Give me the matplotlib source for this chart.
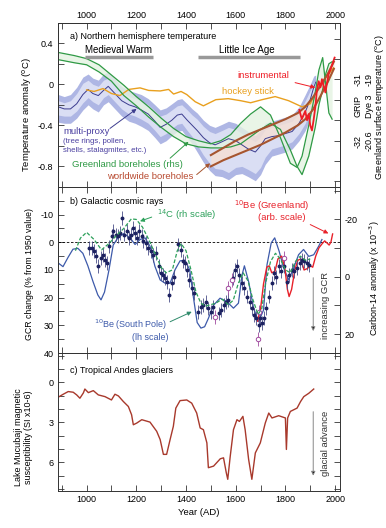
import numpy as np
import matplotlib
matplotlib.use('Agg')
import matplotlib.pyplot as plt
from matplotlib.ticker import MultipleLocator, FixedLocator

plt.rcParams['font.family'] = ['Liberation Sans', 'DejaVu Sans']
plt.rcParams['font.size'] = 6.5
plt.rcParams['axes.unicode_minus'] = False
plt.rcParams['axes.linewidth'] = 0.7
plt.rcParams['axes.edgecolor'] = '#333333'

# --- a) Northern hemisphere temperature ---
mp_years = [886, 910, 935, 960, 985, 1006, 1025, 1047, 1068, 1087, 1110, 1141, 1170, 1195, 1220,
            1248, 1275, 1296, 1320, 1343, 1365, 1383, 1405, 1425, 1445, 1470, 1495, 1517, 1545,
            1571, 1600, 1625, 1650, 1679, 1700, 1719, 1745, 1773, 1800, 1827, 1855, 1880, 1900,
            1914, 1922]
mp_vals = [-0.22, -0.24, -0.24, -0.19, -0.10, -0.05, -0.09, -0.11, -0.06, -0.02, -0.08, -0.16,
           -0.20, -0.22, -0.25, -0.29, -0.36, -0.42, -0.39, -0.35, -0.30, -0.29, -0.35, -0.40,
           -0.45, -0.52, -0.57, -0.59, -0.56, -0.53, -0.55, -0.59, -0.63, -0.66, -0.60, -0.53,
           -0.51, -0.50, -0.48, -0.46, -0.38, -0.27, -0.15, -0.03, 0.02]
mp_hi = [-0.10, -0.12, -0.10, -0.03, 0.07, 0.10, 0.06, 0.04, 0.10, 0.12, 0.06, -0.02, -0.06,
         -0.08, -0.10, -0.14, -0.20, -0.25, -0.23, -0.19, -0.15, -0.14, -0.19, -0.24, -0.28,
         -0.35, -0.40, -0.42, -0.39, -0.36, -0.38, -0.42, -0.46, -0.50, -0.45, -0.38, -0.36,
         -0.34, -0.32, -0.30, -0.22, -0.10, 0.00, 0.08, 0.09]
mp_lo = [-0.37, -0.38, -0.38, -0.33, -0.25, -0.20, -0.24, -0.27, -0.20, -0.17, -0.23, -0.31,
         -0.36, -0.38, -0.41, -0.45, -0.52, -0.58, -0.55, -0.50, -0.46, -0.45, -0.52, -0.58,
         -0.66, -0.76, -0.84, -0.89, -0.90, -0.93, -0.88, -0.87, -0.90, -0.94, -0.88, -0.78,
         -0.70, -0.68, -0.66, -0.63, -0.55, -0.45, -0.33, -0.18, -0.08]

hs_years = [1000, 1030, 1066, 1100, 1134, 1170, 1215, 1250, 1296, 1330, 1350, 1380, 1403, 1437,
            1470, 1520, 1570, 1620, 1660, 1706, 1759, 1813, 1867, 1900, 1934, 1974, 1994]
hs_vals = [-0.055, -0.07, -0.042, -0.09, -0.11, -0.05, -0.035, -0.06, -0.065, -0.05, -0.095,
           -0.07, -0.10, -0.17, -0.21, -0.15, -0.14, -0.16, -0.18, -0.15, -0.12, -0.16, -0.22,
           -0.19, -0.02, 0.10, 0.16]

gb_years = [886, 950, 1000, 1050, 1100, 1150, 1200, 1250, 1300, 1350, 1400, 1450, 1500, 1540,
            1580, 1620, 1660, 1700, 1740, 1780, 1820, 1847, 1867, 1894, 1920, 1935, 1950, 1962,
            1975, 1988]
gb_grip = [0.31, 0.28, 0.25, 0.19, 0.09, -0.01, -0.12, -0.22, -0.33, -0.43, -0.51, -0.55, -0.58,
           -0.55, -0.49, -0.38, -0.29, -0.22, -0.30, -0.52, -0.77, -0.81, -0.70, -0.40, -0.08,
           0.14, 0.26, 0.00, -0.28, -0.34]
gb_dye3 = [0.24, 0.21, 0.19, 0.12, 0.03, -0.11, -0.21, -0.32, -0.42, -0.51, -0.58, -0.61, -0.62,
           -0.62, -0.61, -0.58, -0.51, -0.44, -0.38, -0.44, -0.64, -0.80, -0.88, -0.70, -0.42,
           -0.20, -0.05, 0.10, 0.20, 0.22]

wb_years = [1500, 1550, 1600, 1650, 1700, 1750, 1800, 1850, 1880, 1910, 1940, 1970, 1995]
wb_hi = [-0.69, -0.62, -0.55, -0.49, -0.44, -0.39, -0.34, -0.28, -0.22, -0.13, -0.02, 0.10, 0.22]
wb_lo = [-0.80, -0.74, -0.69, -0.64, -0.59, -0.53, -0.47, -0.40, -0.34, -0.25, -0.12, 0.02, 0.15]

inst_years = [1856, 1866, 1873, 1880, 1887, 1894, 1900, 1907, 1914, 1921, 1927, 1934, 1941,
              1947, 1954, 1961, 1968, 1974, 1981, 1988, 1998]
inst_vals = [-0.25, -0.34, -0.30, -0.26, -0.35, -0.29, -0.40, -0.45, -0.34, -0.21, -0.05, 0.03,
             -0.03, 0.05, -0.02, -0.08, 0.02, 0.10, 0.14, 0.19, 0.26]

# --- b) Galactic cosmic rays ---
be_sp_years = [886, 905, 925, 945, 965, 985, 1005, 1025, 1045, 1058, 1072, 1090, 1107, 1125,
               1150, 1175, 1195, 1215, 1235, 1255, 1275, 1296, 1316, 1336, 1356, 1376, 1396,
               1415, 1430, 1445, 1460, 1475, 1490, 1511, 1537, 1564, 1591, 1611, 1625, 1635,
               1652, 1672, 1692, 1712, 1726, 1743, 1757, 1775, 1793, 1813, 1833, 1853, 1873,
               1894, 1914, 1934, 1947]
be_sp_gcr = [7.5, 8.8, 5.5, 2.5, 2.2, 4.0, 8.5, 14.0, 19.0, 20.8, 18.0, 10.0, 1.0, -1.5, -3.2,
             -1.6, 0.8, -1.0, -1.6, 1.4, 8.7, 13.6, 14.8, 14.8, 9.9, 6.7, 6.5, 10.0, 20.0, 29.0,
             31.0, 30.5, 27.5, 22.7, 20.2, 21.4, 23.8, 22.0, 12.0, 8.5, 14.2, 23.8, 28.7, 24.5,
             8.1, 0.2, -1.6, 3.3, 9.3, 13.6, 9.3, 4.5, 2.6, 5.1, 4.5, 1.4, -1.0]

c14_years = [955, 975, 1000, 1030, 1060, 1090, 1120, 1150, 1180, 1200, 1225, 1250, 1275, 1300,
             1320, 1345, 1365, 1380, 1400, 1420, 1440, 1460, 1480, 1500, 1520, 1545, 1570, 1590,
             1610, 1630, 1650, 1670, 1690, 1705, 1720, 1740, 1760, 1780, 1800, 1820, 1840, 1860,
             1880, 1900]
c14_anom = [-9.1, -13.5, -15.5, -13.0, -9.4, -11.6, -14.4, -16.9, -20.2, -20.0, -17.3, -13.0,
            -8.2, -3.3, -1.4, -2.4, -9.1, -11.6, -9.1, -2.4, 5.3, 9.2, 10.2, 9.7, 9.2, 7.8, 9.7,
            8.2, 2.4, -1.4, 1.5, 8.2, 13.1, 11.1, 2.4, -5.3, -8.2, -6.2, -2.4, -1.4, -5.3, -7.2,
            -5.8, -6.2]

be_gl_years = [1688, 1700, 1712, 1725, 1735, 1745, 1758, 1770, 1785, 1798, 1808, 1815, 1825,
               1838, 1850, 1862, 1875, 1888, 1900, 1910, 1922, 1935, 1948, 1958, 1968, 1976,
               1983, 1990]
be_gl_gcr = [28.5, 24.0, 15.0, 9.0, 8.5, 11.0, 10.5, 6.0, 5.0, 9.5, 17.0, 19.6, 17.0, 10.0, 6.5,
             6.0, 10.0, 9.5, 8.5, 9.0, 5.0, 2.0, 0.5, -0.5, 0.3, 1.0, 0.0, -3.0]

pt_years = [1011, 1020, 1029, 1037, 1047, 1056, 1064, 1074, 1081, 1091, 1101, 1107, 1118, 1128,
            1134, 1144, 1152, 1161, 1171, 1177, 1185, 1195, 1204, 1212, 1222, 1228, 1238, 1249,
            1259, 1269, 1279, 1290, 1298, 1306, 1316, 1325, 1333, 1343, 1352, 1369, 1379, 1387,
            1396, 1403, 1414, 1423, 1433, 1450, 1460, 1470, 1481, 1490, 1500, 1508, 1531, 1540,
            1551, 1562, 1571, 1589, 1598, 1607, 1615, 1625, 1634, 1645, 1656, 1665, 1675, 1683,
            1692, 1699, 1706, 1715, 1723, 1732, 1746, 1755, 1763, 1773, 1782, 1793, 1806, 1816,
            1826, 1836, 1847, 1857, 1867, 1876, 1887, 1894]
pt_gcr = [2.0, 2.1, 3.3, 5.1, 8.7, 5.7, 4.5, 6.3, 7.5, 1.5, -2.2, -4.0, -2.8, -2.2, -3.3, -8.7,
          -2.8, -4.0, -1.6, -2.8, -5.2, -3.3, -1.6, -4.0, -2.2, -0.4, 0.2, 2.1, 3.3, 4.5, 3.9,
          8.7, 11.2, 11.8, 13.0, 14.2, 19.0, 14.8, 12.4, 0.8, 2.7, 6.9, 7.5, 9.9, 13.6, 16.6,
          18.4, 25.1, 23.3, 22.7, 21.5, 23.9, 25.1, 23.3, 25.7, 24.5, 22.7, 21.5, 20.8, 12.9,
          9.9, 8.7, 11.7, 14.8, 16.6, 19.6, 21.5, 23.9, 26.3, 27.5, 29.9, 27.5, 29.3, 27.5, 23.9,
          19.6, 14.8, 11.1, 12.4, 8.7, 10.5, 8.7, 14.2, 11.7, 9.9, 10.5, 9.3, 7.5, 6.3, 6.9, 7.5,
          8.1]
pc_years = [1517, 1567, 1584, 1689, 1692, 1793]
pc_gcr = [26.9, 16.4, 13.6, 34.8, 25.1, 5.7]

# --- c) Tropical Andes glaciers ---
c_years = [886, 906, 926, 946, 960, 973, 987, 993, 1007, 1027, 1047, 1074, 1100, 1114, 1128,
           1148, 1168, 1181, 1188, 1202, 1222, 1255, 1282, 1296, 1309, 1322, 1336, 1349, 1359,
           1376, 1403, 1423, 1443, 1457, 1470, 1484, 1490, 1511, 1538, 1551, 1562, 1568, 1578,
           1591, 1605, 1615, 1629, 1638, 1652, 1665, 1679, 1699, 1719, 1733, 1746, 1773, 1800,
           1804, 1809, 1820, 1834, 1847, 1861, 1874, 1894, 1914]
c_vals = [1.11, 0.89, 0.69, 0.74, 0.94, 1.19, 0.79, 0.5, 0.77, 0.62, 0.94, 1.07, 1.32, 0.89,
          1.02, 1.44, 1.81, 2.43, 3.18, 3.05, 2.8, 2.98, 3.67, 4.29, 5.4, 5.4, 4.29, 3.3, 1.93,
          1.37, 1.32, 1.56, 2.3, 3.42, 3.55, 4.54, 6.4, 6.28, 5.73, 5.66, 6.77, 7.27, 5.54, 3.55,
          2.8, 2.93, 2.55, 3.55, 5.78, 7.27, 5.29, 4.54, 3.05, 2.3, 2.67, 2.5, 2.67, 5.03, 2.67,
          2.18, 2.05, 1.93, 1.44, 1.07, 0.82, 0.5]

W, H = 386, 528
fig = plt.figure(figsize=(W / 100, H / 100), dpi=100)


def px(x, y):
    return x / W, 1 - y / H


ax_a = fig.add_axes([0.151, 0.646, 0.730, 0.311])
ax_b = fig.add_axes([0.151, 0.3314, 0.730, 0.3146])
ax_c = fig.add_axes([0.151, 0.070, 0.730, 0.2614])

for ax in (ax_a, ax_b, ax_c):
    ax.set_xlim(886, 2020)
    ax.xaxis.set_major_locator(MultipleLocator(200))
    ax.xaxis.set_minor_locator(MultipleLocator(100))
    ax.tick_params(which='both', direction='in', length=4, width=0.6, top=True, bottom=True,
                   labelsize=6.5, colors='#333333', labelcolor='black')
ax_a.tick_params(axis='x', labeltop=True, labelbottom=False, pad=2)
ax_b.tick_params(axis='x', labelbottom=False)
ax_c.tick_params(axis='x', pad=3)


def arrow(ax, tail, head, color):
    ax.annotate('', xy=head, xytext=tail,
                arrowprops=dict(arrowstyle='-|>', color=color, lw=0.7, mutation_scale=6,
                                shrinkA=0, shrinkB=0))


# panel a
mp_hi_a = np.array(mp_hi)
mp_lo_a = np.array(mp_lo)
ax_a.fill_between(mp_years, mp_lo_a, mp_hi_a, color='#aeb6e4', lw=0)
ax_a.fill_between(mp_years, mp_lo_a + 0.07, mp_hi_a - 0.06, color='#dadef4', lw=0)
ax_a.fill_between(gb_years, gb_dye3, gb_grip, color='#e4f3e2', alpha=0.8, lw=0)
ax_a.fill_between(wb_years, wb_lo, wb_hi, color='#f4e0d6', alpha=0.85, lw=0)
ax_a.plot(mp_years, mp_vals, color='#3c3c8e', lw=0.7)
ax_a.plot(hs_years, hs_vals, color='#e9a01e', lw=1.0)
ax_a.plot(gb_years, gb_grip, color='#2f9a45', lw=0.9)
ax_a.plot(gb_years, gb_dye3, color='#2f9a45', lw=0.9)
ax_a.plot(wb_years, wb_hi, color='#a6552f', lw=1.5)
ax_a.plot(wb_years, wb_lo, color='#a6552f', lw=1.5)
ax_a.plot(inst_years, inst_vals, color='#ee1c25', lw=1.3)

ax_a.set_ylim(-1.0, 0.6)
ax_a.set_yticks([0.4, 0, -0.4, -0.8])
ax_a.set_yticklabels(['0.4', '0', '-0.4', '-0.8'])
ax_a.yaxis.set_minor_locator(FixedLocator([0.2, -0.2, -0.6]))
ax_a.tick_params(axis='y', which='both', right=False)

ax_a2 = ax_a.twinx()
ax_a2.set_ylim(-32.76, -30.07)
ax_a2.yaxis.set_major_locator(FixedLocator([-31, -32]))
ax_a2.yaxis.set_minor_locator(FixedLocator([-30.33, -30.67, -31.33, -31.67, -32.33, -32.67]))
ax_a2.tick_params(which='both', direction='in', length=4, width=0.6, labelright=False,
                  colors='#333333')

ax_a.text(933, 0.47, 'a) Northern hemisphere temperature', va='center', fontsize=6.5)
ax_a.plot([994, 1268], [0.27, 0.27], color='#999999', lw=2.5, solid_capstyle='butt')
ax_a.plot([1450, 1860], [0.27, 0.27], color='#999999', lw=2.5, solid_capstyle='butt')
ax_a.text(1130, 0.335, 'Medieval Warm', ha='center', va='center', fontsize=7)
ax_a.text(1646, 0.335, 'Little Ice Age', ha='center', va='center', fontsize=7)
ax_a.text(1712, 0.087, 'instrumental', ha='center', va='center', color='#ee1c25', fontsize=6.8)
arrow(ax_a, (1839, 0.016), (1920, -0.032), '#ee1c25')
ax_a.text(1650, -0.07, 'hockey stick', ha='center', va='center', color='#e9a01e', fontsize=6.8)
ax_a.text(905, -0.46, 'multi-proxy', va='center', color='#4a3fa0', fontsize=6.8)
ax_a.text(905, -0.56, '(tree rings, pollen,', va='center', color='#4a3fa0', fontsize=5.6)
ax_a.text(905, -0.65, 'shells, stalagmites, etc.)', va='center', color='#4a3fa0', fontsize=5.6)
arrow(ax_a, (1094, -0.43), (1201, -0.24), '#3c3c8e')
ax_a.text(941, -0.78, 'Greenland boreholes (rhs)', va='center', color='#2f9a45', fontsize=6.8)
arrow(ax_a, (1336, -0.72), (1410, -0.56), '#2f9a45')
ax_a.text(1082, -0.90, 'worldwide boreholes', va='center', color='#b84a30', fontsize=6.8)
arrow(ax_a, (1443, -0.88), (1497, -0.77), '#a6552f')

# panel b
ax_b.axhline(0, color='black', lw=0.6, ls=(0, (3, 2)))
ax_b.plot(be_sp_years, be_sp_gcr, color='#3d5aaa', lw=0.9)
ax_b.plot(be_gl_years, be_gl_gcr, color='#e8212a', lw=1.0)
ax_b.errorbar(pt_years, pt_gcr, yerr=2.5, fmt='o', ms=1.8, color='#1c2160', ecolor='#4a4f88',
              elinewidth=0.6, capsize=0)
ax_b.errorbar(pc_years, pc_gcr, yerr=2.5, fmt='o', ms=3.2, mfc='white', mec='#a04a9f',
              mew=0.7, ecolor='#a04a9f', elinewidth=0.6, capsize=0)
ax_b.set_ylim(40, -20)
ax_b.set_yticks([-10, 0, 10, 20, 30, 40])
ax_b.set_yticklabels(['-10', '0', '10', '20', '30', '40'])
ax_b.yaxis.set_minor_locator(MultipleLocator(5))
ax_b.tick_params(axis='y', which='both', right=False)

ax_b2 = ax_b.twinx()
ax_b2.plot(c14_years, c14_anom, color='#2ca05a', lw=0.9, ls=(0, (3, 1.5)))
ax_b2.set_ylim(26.57, -31.34)
ax_b2.set_yticks([-20, 0, 20])
ax_b2.set_yticklabels(['-20', '0', '20'])
ax_b2.yaxis.set_minor_locator(FixedLocator([-30, -10, 10]))
ax_b2.tick_params(which='both', direction='in', length=4, width=0.6, labelsize=6.5, pad=3,
                  colors='#333333', labelcolor='black')
ax_b2.set_xlim(886, 2020)

ax_b.text(933, -14.9, 'b) Galactic cosmic rays', va='center', fontsize=6.5)
ax_b.text(1283, -9.8, '$^{14}$C (rh scale)', va='center', color='#2ca05a', fontsize=6.8)
arrow(ax_b, (1262, -9.1), (1215, -7.6), '#2ca05a')
ax_b.text(1746, -13.1, '$^{10}$Be (Greenland)', ha='center', va='center', color='#e8212a',
          fontsize=6.8)
ax_b.text(1787, -8.9, '(arb. scale)', ha='center', va='center', color='#e8212a', fontsize=6.8)
arrow(ax_b, (1900, -6.4), (1973, -3.2), '#e8212a')
ax_b.text(1177, 29.7, '$^{10}$Be (South Pole)', ha='center', va='center', color='#3d5aaa',
          fontsize=6.5)
ax_b.text(1258, 34.4, '(lh scale)', ha='center', va='center', color='#3d5aaa', fontsize=6.5)
arrow(ax_b, (1336, 28.7), (1423, 25.1), '#2e8a6a')
ax_b.text(1962, 22.7, 'increasing GCR', rotation=90, ha='center', va='center', fontsize=6.8,
          color='#333333')
ax_b.annotate('', xy=(1912, 32.1), xytext=(1912, 12.8),
              arrowprops=dict(arrowstyle='-|>', color='#888888', lw=0.7, mutation_scale=6,
                              shrinkA=0, shrinkB=0, fc='black', ec='#888888'))

# panel c
ax_c.plot(c_years, c_vals, color='#a8392c', lw=1.0)
ax_c.set_ylim(8.15, -2.2)
ax_c.set_yticks([0, 3, 6])
ax_c.yaxis.set_minor_locator(MultipleLocator(1))
ax_c.tick_params(axis='y', which='both', right=True)
ax_c.text(933, -0.9, 'c) Tropical Andes glaciers', va='center', fontsize=6.5)
ax_c.text(1962, 4.6, 'glacial advance', rotation=90, ha='center', va='center', fontsize=6.8,
          color='#333333')
ax_c.annotate('', xy=(1912, 7.0), xytext=(1912, 2.2),
              arrowprops=dict(arrowstyle='-|>', color='#888888', lw=0.7, mutation_scale=6,
                              shrinkA=0, shrinkB=0, fc='black', ec='#888888'))
ax_c.set_xlabel('Year (AD)', fontsize=6.8, labelpad=3)

# axis titles and side labels
fig.text(*px(27, 115), 'Temperature anomaly ($^{\\rm o}$C)', rotation=90, ha='center',
         va='center', fontsize=6.8)
fig.text(*px(29, 274), 'GCR change (% from 1950 value)', rotation=90, ha='center', va='center',
         fontsize=6.3)
fig.text(*px(23.5, 437), 'Lake Mucubaji magnetic\nsusceptibility (SI x10-6)', rotation=90,
         ha='center', va='center', fontsize=6.5, linespacing=1.1)
fig.text(*px(380, 107), 'Greenland surface temperature ($^{\\rm o}$C)', rotation=90,
         ha='center', va='center', fontsize=6.5)
fig.text(*px(375, 278), 'Carbon-14 anomaly (x 10$^{-3}$)', rotation=90, ha='center',
         va='center', fontsize=6.5)
for (x, y, s) in [(358, 80, '-31'), (369, 80, '-19'), (358, 106, 'GRIP'), (369, 106, 'Dye 3'),
                  (358, 141, '-32'), (369, 141, '-20.6')]:
    fig.text(*px(x, y), s, rotation=90, ha='center', va='center', fontsize=6.5)

fig.savefig('out.png', dpi=100)
